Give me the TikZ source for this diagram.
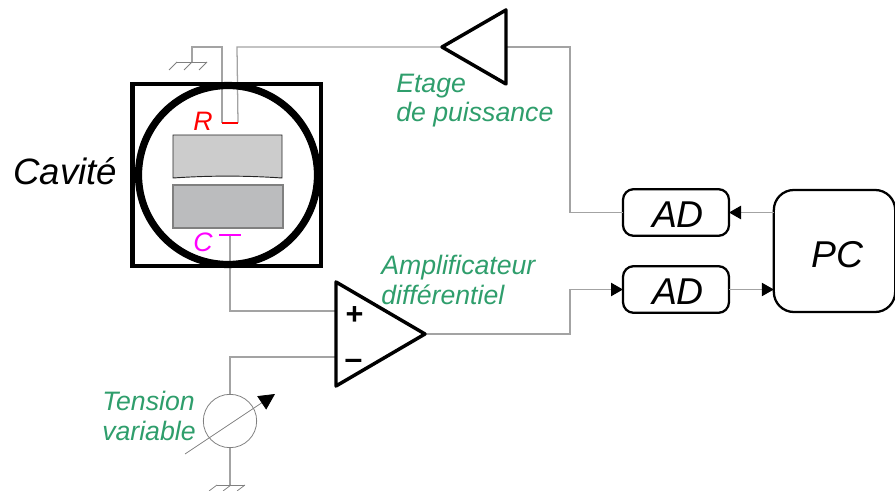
\documentclass[tikz,border=0pt]{standalone}
\usepackage{fontspec}
\setmainfont{Liberation Sans}
\usepackage{xcolor}
\usetikzlibrary{arrows.meta}
\definecolor{cawire}{HTML}{A3A3A3}
\definecolor{cagreen}{HTML}{2F9E6C}
\definecolor{caplatea}{HTML}{CCCCCC}
\definecolor{caplateb}{HTML}{BBBCBE}
\definecolor{camagenta}{HTML}{FF00FF}
\tikzset{
  wire/.style={draw=cawire,line width=0.95pt},
  tipwire/.style={wire,-{Triangle[length=9pt,width=10pt,color=black]}},
  thin wire/.style={draw=black!50,line width=0.55pt},
  amp/.style={draw=black,line width=2.6pt,line join=round,fill=white},
  block/.style={draw=black,line width=1.7pt,rounded corners=8pt,inner sep=0pt,outer sep=0pt,
    font=\fontsize{28pt}{30pt}\itshape},
  greenlabel/.style={font=\fontsize{20pt}{21.8pt}\itshape,text=cagreen,align=left,inner sep=0pt,anchor=west},
  probe/.style={font=\fontsize{20pt}{22pt}\itshape,inner sep=0pt},
  source/.style={circle,draw=black!50,line width=0.6pt,minimum size=40pt,inner sep=0pt,outer sep=0pt}
}
\begin{document}
\begin{tikzpicture}[x=0.75pt,y=-0.75pt,>=Latex]
\useasboundingbox (0,0) rectangle (895,491);
\coordinate (rleft) at (222,123);
\coordinate (rright) at (238,123);
\coordinate (cwire) at (230,235);
\coordinate (gnda) at (192,62);
\coordinate (gndb) at (230,485);
\coordinate (pplus) at (336,311);
\coordinate (pminus) at (336,357);
\coordinate (amptip) at (425,334);
\coordinate (ptip) at (442,47);
\coordinate (pback) at (506,47);
\coordinate (dialstart) at (185,454);
\coordinate (dialend) at (275,394);
\node[block,minimum width=79.5pt,minimum height=35pt,text height=23pt] (ada) at (676,212.5) {\hspace{3pt}AD};
\node[block,minimum width=79.5pt,minimum height=35pt,text height=23pt] (adb) at (676,289.5) {\hspace{3pt}AD};
\node[block,rounded corners=15pt,minimum width=91pt,minimum height=91.5pt,text height=24.5pt] (pc) at (834.5,251) {\hspace{4.5pt}PC};
\node[source] (vsrc) at (230,421) {};
\draw[wire] (rleft) -- (222,47) -- (192,47) -- (gnda);
\draw[wire] (rright) -- (237,47) -- (ptip);
\draw[wire] (cwire) -- (230,311) -- (pplus);
\draw[wire] (vsrc.north) -- (230,357) -- (pminus);
\draw[wire] (vsrc.south) -- (gndb);
\draw[wire] (pback) -- (570,47) -- (570,212.5) -- (ada.west);
\draw[tipwire] (amptip) -- (570,334) -- (570,289.5) -- (adb.west);
\draw[tipwire] (adb.east) -- (adb.east -| pc.west);
\draw[tipwire] (ada.east -| pc.west) -- (ada.east);
\draw[thin wire] (177,62) -- (207,62);
\foreach \x in {177,192,207} \draw[thin wire] (\x,62) -- (\x-8,70);
\draw[thin wire] (217,485) -- (245,485);
\foreach \x in {217,231,245} \draw[thin wire] (\x,485) -- (\x-8,491);
\draw[thin wire,-{Triangle[length=12pt,width=12pt,color=black]}] (dialstart) -- (dialend);
\draw[black,line width=3.4pt] (132.5,84) rectangle (321,266);
\draw[black,line width=5.4pt] (228,175) circle (89.5);
\draw[draw=black!85,fill=caplatea,line width=0.7pt] (173,135) -- (282,135) -- (282,178)
  .. controls (245,175.5) and (210,175.5) .. (173,178) -- cycle;
\draw[draw=black!50,fill=caplateb,line width=0.9pt] (173,185) rectangle (283,228);
\draw[red,line width=2pt] (rleft) -- (rright);
\draw[camagenta,line width=2pt] (219,235) -- (241,235);
\node[probe,text=red] (rlabel) at (203,121) {R};
\node[probe,text=camagenta] (clabel) at (203,242) {C};
\draw[amp] (336,282) -- (336,386) -- (amptip) -- cycle;
\draw[amp] (ptip) -- (506,10) -- (506,84) -- cycle;
\node[font=\fontsize{23pt}{24pt}\bfseries,inner sep=0pt] (plus) at (354.5,316) {+};
\node[font=\fontsize{24pt}{24pt}\bfseries,inner sep=0pt] (minus) at (353.5,364) {–};
\node[font=\fontsize{27.5pt}{30pt}\itshape,inner sep=0pt,anchor=west] (cavite) at (13,171) {Cavité};
\node[greenlabel] (etage) at (396,101) {Etage\\de puissance};
\node[greenlabel] (ampli) at (381,280) {Amplificateur\\différentiel};
\node[greenlabel] (tension) at (102,416) {Tension\\variable};
\end{tikzpicture}
\end{document}
